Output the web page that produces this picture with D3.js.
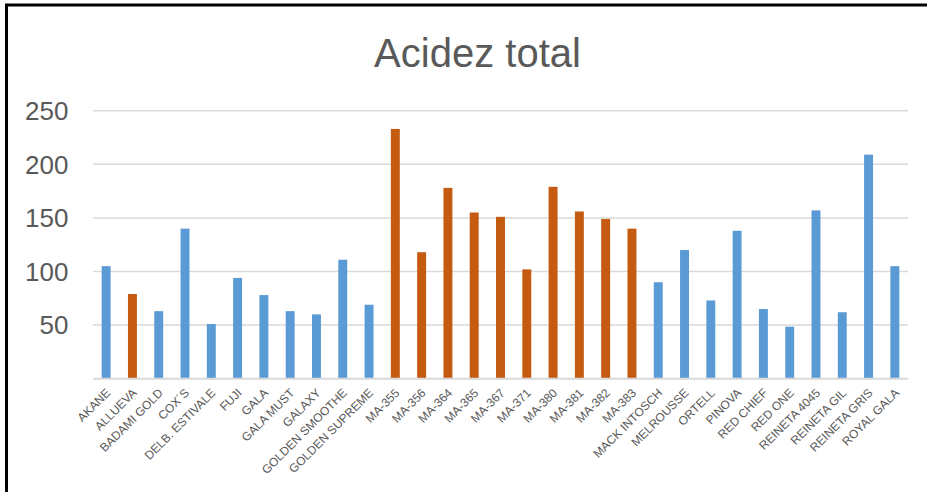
<!DOCTYPE html>
<html>
<head>
<meta charset="utf-8">
<script src="https://cdn.jsdelivr.net/npm/d3@7"></script>
<style>
  body { margin: 0; background: #fff; }
  text { font-family: "Liberation Sans", Arial, sans-serif; fill: #595959; }
</style>
</head>
<body>
<div id="main"></div>
<script>
// values
var varieties = ["AKANE", "ALLUEVA", "BADAMI GOLD", "COX´S", "DELB. ESTIVALE", "FUJI", "GALA",
  "GALA MUST", "GALAXY", "GOLDEN SMOOTHE", "GOLDEN SUPREME", "MA-355", "MA-356", "MA-364",
  "MA-365", "MA-367", "MA-371", "MA-380", "MA-381", "MA-382", "MA-383", "MACK INTOSCH",
  "MELROUSSE", "ORTELL", "PINOVA", "RED CHIEF", "RED ONE", "REINETA 4045", "REINETA GIL",
  "REINETA GRIS", "ROYAL GALA"];
var acidez = [105, 79, 63, 140, 51, 94, 78, 63, 60, 111, 69, 233, 118, 178,
  155, 151, 102, 179, 156, 149, 140, 90, 120, 73, 138, 65, 48.5, 157, 62, 209, 105];
// which ones are drawn in orange
var group = ["std", "ma", "std", "std", "std", "std", "std", "std", "std", "std", "std",
  "ma", "ma", "ma", "ma", "ma", "ma", "ma", "ma", "ma", "ma",
  "std", "std", "std", "std", "std", "std", "std", "std", "std", "std"];
var yTicks = [50, 100, 150, 200, 250];

var W = 927, H = 492;
var margin = {top: 110.7, right: 19, bottom: 113.3, left: 93},
    width = W - margin.left - margin.right,
    height = H - margin.top - margin.bottom;

var svg = d3.select("#main")
  .append("svg")
    .attr("width", W)
    .attr("height", H);

// outer frame (right and bottom edges fall outside the picture)
svg.append("rect")
  .attr("x", 6.5).attr("y", 5)
  .attr("width", 940).attr("height", 500)
  .attr("fill", "none")
  .attr("stroke", "#000")
  .attr("stroke-width", 3);

svg.append("text")
  .attr("x", 477.5)
  .attr("y", 67.3)
  .attr("text-anchor", "middle")
  .attr("font-size", 40)
  .text("Acidez total");

var g = svg.append("g")
  .attr("transform", "translate(" + margin.left + "," + margin.top + ")");

var x = d3.scaleBand()
  .domain(varieties)
  .range([0, width])
  .paddingInner(0.66)
  .paddingOuter(0.33);

var y = d3.scaleLinear()
  .domain([0, 250])
  .range([height, 0]);

// grid lines
g.selectAll("line.grid")
  .data(yTicks)
  .enter().append("line")
    .attr("class", "grid")
    .attr("x1", 0).attr("x2", width)
    .attr("y1", function(d) { return y(d); })
    .attr("y2", function(d) { return y(d); })
    .attr("stroke", "#d9d9d9")
    .attr("stroke-width", 1.5);

// y labels
g.selectAll("text.ylab")
  .data(yTicks)
  .enter().append("text")
    .attr("class", "ylab")
    .attr("x", -24.5)
    .attr("y", function(d) { return y(d); })
    .attr("dy", "0.36em")
    .attr("text-anchor", "end")
    .attr("font-size", 26)
    .text(function(d) { return d; });

// bars
g.selectAll("rect.bar")
  .data(varieties)
  .enter().append("rect")
    .attr("class", "bar")
    .attr("x", function(d) { return x(d); })
    .attr("width", x.bandwidth())
    .attr("y", function(d, i) { return y(acidez[i]); })
    .attr("height", function(d, i) { return height - y(acidez[i]); })
    .attr("fill", function(d, i) { return group[i] == "ma" ? "#c55a11" : "#5b9bd5"; });

// x axis line
g.append("line")
  .attr("x1", 0).attr("x2", width)
  .attr("y1", height).attr("y2", height)
  .attr("stroke", "#d9d9d9")
  .attr("stroke-width", 2);

// rotated category labels
g.selectAll("text.xlab")
  .data(varieties)
  .enter().append("text")
    .attr("class", "xlab")
    .attr("text-anchor", "end")
    .attr("font-size", 12)
    .attr("transform", function(d) {
      return "translate(" + (x(d) + x.bandwidth() / 2 + 2) + "," + (height + 12) + ") rotate(-45)";
    })
    .attr("dy", "0.35em")
    .text(function(d) { return d; });
</script>
</body>
</html>
